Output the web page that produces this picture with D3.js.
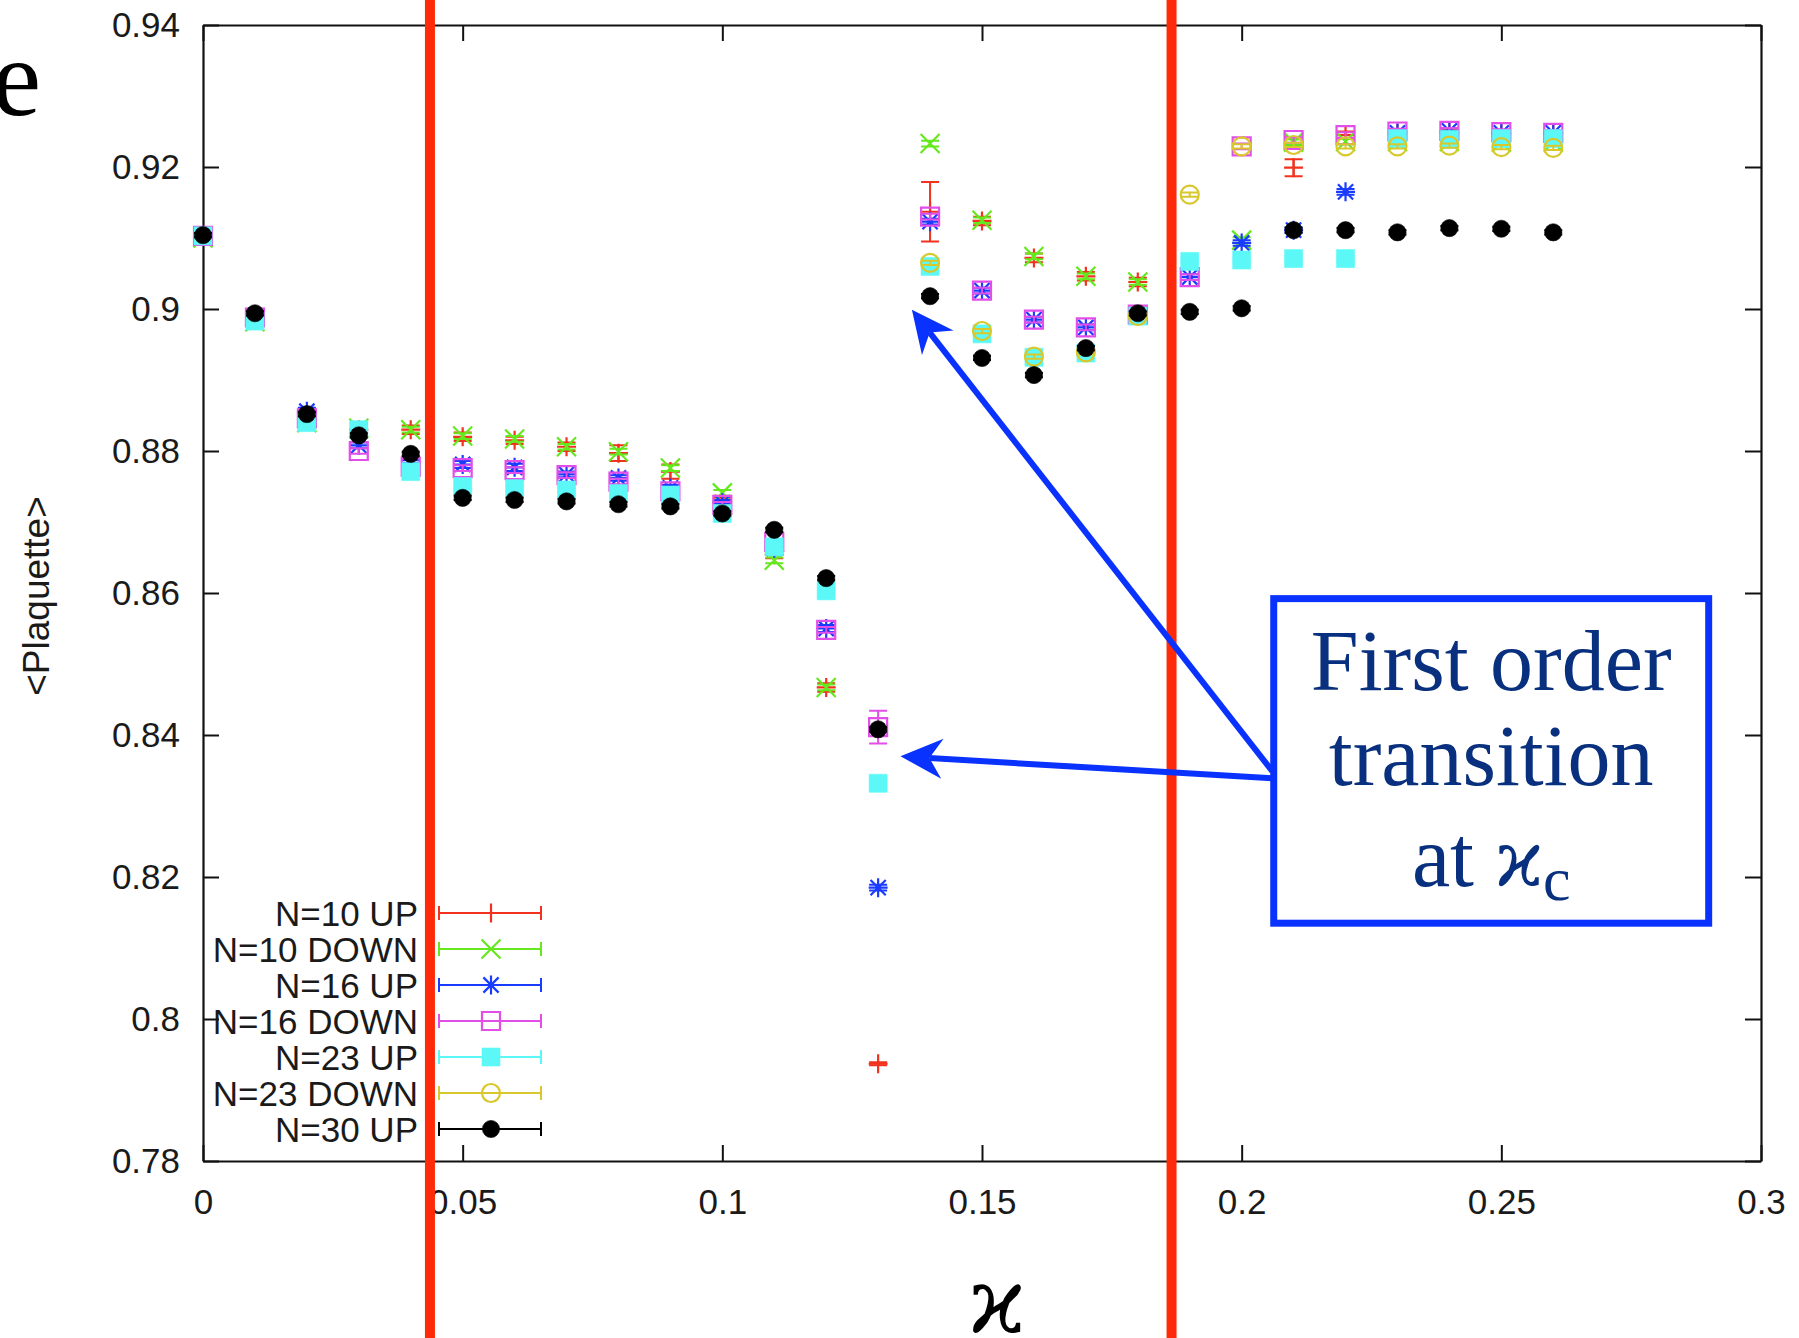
<!DOCTYPE html>
<html><head><meta charset="utf-8">
<script src="https://cdn.jsdelivr.net/npm/d3@7"></script>
<style>html,body{margin:0;padding:0;background:#fff}svg{display:block}</style>
</head><body>
<svg id="chart" width="1799" height="1338"></svg>
<script>
// ---------- data ----------
const kappa = [0,0.01,0.02,0.03,0.04,0.05,0.06,0.07,0.08,0.09,0.10,0.11,0.12,0.13,0.14,0.15,0.16,0.17,0.18,0.19,0.20,0.21,0.22,0.23,0.24,0.25,0.26];

const n10Up    = [0.9103,0.8988,0.8843,0.8830,0.8830,0.8820,0.8815,0.8806,0.8797,0.8771,0.8729,0.8654,0.8467,0.7937,0.9137,0.9124,0.9072,0.9046,0.9038,null,null,0.9199,0.9245,0.9248,0.9249,0.9247,0.9246];
const n10UpErr = [0.0004,0.0004,0.0006,0.0009,0.0006,0.0006,0.0005,0.0006,0.0011,0.0010,0.0005,0.0005,0.0006,0.0002,0.0042,0.0006,0.0006,0.0006,0.0006,null,null,0.0012,0.0005,0.0005,0.0005,0.0005,0.0005];

const n10Down    = [0.9100,0.8982,0.8840,0.8832,0.8830,0.8821,0.8817,0.8806,0.8799,0.8776,0.8741,0.8646,0.8467,null,0.9233,0.9125,0.9074,0.9046,0.9038,null,0.9097,0.9235,0.9236,0.9236,0.9236,0.9235,0.9235];
const n10DownErr = [0.0004,0.0004,0.0004,0.0004,0.0004,0.0004,0.0004,0.0004,0.0004,0.0004,0.0004,0.0004,0.0004,null,0.0004,0.0004,0.0004,0.0004,0.0004,null,0.0004,0.0004,0.0004,0.0004,0.0004,0.0004,0.0004];

const n16Up    = [0.9103,0.8990,0.8856,0.8808,0.8783,0.8781,0.8777,0.8767,0.8762,0.8748,0.8727,0.8663,0.8550,0.8185,0.9123,0.9026,0.8985,0.8974,0.8992,0.9045,0.9093,0.9111,0.9165,0.9248,0.9251,0.9248,0.9248];
const n16UpErr = [0.0004,0.0004,0.0005,0.0004,0.0004,0.0005,0.0005,0.0004,0.0004,0.0004,0.0004,0.0004,0.0005,0.0004,0.0004,0.0004,0.0004,0.0004,0.0004,0.0004,0.0004,0.0004,0.0004,0.0004,0.0004,0.0004,0.0004];

const n16Down    = [0.9103,0.8988,0.8846,0.8800,0.8778,0.8776,0.8773,0.8766,0.8757,0.8743,0.8724,0.8672,0.8548,0.8411,0.9130,0.9026,0.8985,0.8974,0.8992,0.9045,0.9229,0.9238,0.9245,0.9250,0.9251,0.9249,0.9248];
const n16DownErr = [0.0004,0.0004,0.0004,0.0004,0.0004,0.0004,0.0004,0.0004,0.0004,0.0004,0.0004,0.0004,0.0004,0.0023,0.0004,0.0004,0.0004,0.0004,0.0004,0.0004,0.0004,0.0004,0.0004,0.0004,0.0004,0.0004,0.0004];

const n23Up    = [0.9103,0.8983,0.8840,0.8830,0.8771,0.8750,0.8747,0.8745,0.8740,0.8738,0.8712,0.8665,0.8603,0.8332,0.9060,0.8965,0.8932,0.8938,0.8990,0.9067,0.9069,0.9071,0.9071,0.9240,0.9239,0.9240,0.9240];
const n23UpErr = [0.0003,0.0003,0.0003,0.0003,0.0003,0.0003,0.0003,0.0003,0.0003,0.0003,0.0003,0.0003,0.0003,0.0003,0.0003,0.0003,0.0003,0.0003,0.0003,0.0003,0.0003,0.0003,0.0003,0.0003,0.0003,0.0003,0.0003];

const n23Down    = [null,null,null,null,null,null,null,null,null,null,null,null,null,null,0.9065,0.8969,0.8933,0.8939,0.8990,0.9161,0.9229,0.9231,0.9229,0.9229,0.9230,0.9228,0.9227];
const n23DownErr = [null,null,null,null,null,null,null,null,null,null,null,null,null,null,0.0003,0.0003,0.0003,0.0003,0.0003,0.0003,0.0003,0.0003,0.0003,0.0003,0.0003,0.0003,0.0003];

const n30Up    = [0.9104,0.8994,0.8852,0.8822,0.8796,0.8734,0.8731,0.8729,0.8725,0.8722,0.8712,0.8689,0.8621,0.8408,0.9018,0.8931,0.8907,0.8945,0.8994,0.8996,0.9001,0.9111,0.9111,0.9108,0.9114,0.9113,0.9108];
const n30UpErr = [0.0003,0.0003,0.0003,0.0003,0.0003,0.0003,0.0003,0.0003,0.0003,0.0003,0.0003,0.0003,0.0003,0.0003,0.0003,0.0003,0.0003,0.0003,0.0003,0.0003,0.0003,0.0003,0.0003,0.0003,0.0003,0.0003,0.0003];

const seriesNames = ["N=10 UP","N=10 DOWN","N=16 UP","N=16 DOWN","N=23 UP","N=23 DOWN","N=30 UP"];
const xTicks = [0,0.05,0.1,0.15,0.2,0.25,0.3];
const yTicks = [0.78,0.8,0.82,0.84,0.86,0.88,0.9,0.92,0.94];
const transitionLines = [0.0437,0.1865];   // red vertical markers (kappa)

// ---------- layout / style ----------
const W = 1799, H = 1338;
const M = {left:203, top:25, right:1761, bottom:1161};
const styles = [
  {color:"#f0321e", shape:"plus"},
  {color:"#66e81e", shape:"cross"},
  {color:"#1a3cff", shape:"star"},
  {color:"#e24ee8", shape:"square"},
  {color:"#5cf8f8", shape:"fsquare"},
  {color:"#d8c82c", shape:"circle"},
  {color:"#000000", shape:"fcircle"}
];
const seriesVals = [n10Up,n10Down,n16Up,n16Down,n23Up,n23Down,n30Up];
const seriesErrs = [n10UpErr,n10DownErr,n16UpErr,n16DownErr,n23UpErr,n23DownErr,n30UpErr];

const svg = d3.select("#chart");
const x = d3.scaleLinear().domain([0,0.3]).range([M.left,M.right]);
const y = d3.scaleLinear().domain([0.78,0.94]).range([M.bottom,M.top]);
const fmt = d => String(+d.toFixed(2));
const sansFont = "'Liberation Sans', Arial, Helvetica, sans-serif";

// axes (ticks inward, mirrored)
function styleAxis(g){
  g.selectAll(".domain").attr("stroke","#111").attr("stroke-width",2.2);
  g.selectAll(".tick line").attr("stroke","#111").attr("stroke-width",2);
  g.selectAll(".tick text").attr("fill","#1a1a1a").attr("font-size",35).attr("font-family",sansFont);
}
svg.append("g").attr("transform",`translate(0,${M.bottom})`)
  .call(d3.axisBottom(x).tickValues(xTicks).tickFormat(fmt).tickSizeInner(-16).tickSizeOuter(0).tickPadding(28))
  .call(styleAxis);
svg.append("g").attr("transform",`translate(0,${M.top})`)
  .call(d3.axisTop(x).tickValues(xTicks).tickFormat("").tickSizeInner(-16).tickSizeOuter(0))
  .call(styleAxis);
svg.append("g").attr("transform",`translate(${M.left},0)`)
  .call(d3.axisLeft(y).tickValues(yTicks).tickFormat(fmt).tickSizeInner(-16).tickSizeOuter(0).tickPadding(23))
  .call(styleAxis);
svg.append("g").attr("transform",`translate(${M.right},0)`)
  .call(d3.axisRight(y).tickValues(yTicks).tickFormat("").tickSizeInner(-16).tickSizeOuter(0))
  .call(styleAxis);

// y label
svg.append("text")
  .attr("transform",`translate(36,${(M.top+M.bottom)/2 + 3}) rotate(-90)`)
  .attr("text-anchor","middle").attr("dominant-baseline","central")
  .attr("font-family",sansFont).attr("font-size",37).attr("fill","#1a1a1a")
  .text("<Plaquette>");

// marker shapes
function markerPath(shape){
  const s = 9.5;
  switch(shape){
    case "plus":  return `M${-s},0H${s}M0,${-s}V${s}`;
    case "cross": return `M${-s},${-s}L${s},${s}M${-s},${s}L${s},${-s}`;
    case "star":  return `M${-s},0H${s}M0,${-s}V${s}M${-s*0.8},${-s*0.8}L${s*0.8},${s*0.8}M${-s*0.8},${s*0.8}L${s*0.8},${-s*0.8}`;
    case "square": case "fsquare": return `M${-9},${-9}H9V9H-9Z`;
    case "circle": { const r = 9; return `M${-r},0A${r},${r} 0 1,0 ${r},0A${r},${r} 0 1,0 ${-r},0Z`; }
    case "fcircle": { const r = 8.6; return `M${-r},0A${r},${r} 0 1,0 ${r},0A${r},${r} 0 1,0 ${-r},0Z`; }
  }
}
function drawMarker(g, shape, color){
  const filled = shape==="fsquare"||shape==="fcircle";
  g.append("path").attr("d",markerPath(shape))
    .attr("fill", filled?color:"none")
    .attr("stroke",color).attr("stroke-width", filled?0.6:2.2);
}

// data
const dataG = svg.append("g");
seriesVals.forEach((vals,si)=>{
  const st = styles[si], errs = seriesErrs[si];
  const g = dataG.append("g");
  kappa.forEach((k,i)=>{
    const v = vals[i];
    if(v===null||v===undefined) return;
    const e = errs[i]||0;
    const px = x(k), py = y(v), y0 = y(v-e), y1 = y(v+e);
    g.append("path")
      .attr("d",`M${px},${y0}V${y1}M${px-9},${y0}H${px+9}M${px-9},${y1}H${px+9}`)
      .attr("stroke",st.color).attr("stroke-width",2).attr("fill","none");
    const mg = g.append("g").attr("transform",`translate(${px},${py})`);
    drawMarker(mg, st.shape, st.color);
  });
});

// legend
const leg = svg.append("g");
seriesNames.forEach((name,i)=>{
  const ry = 913 + i*36;
  const st = styles[i];
  leg.append("text").attr("x",418).attr("y",ry+12.5).attr("text-anchor","end")
    .attr("font-family",sansFont).attr("font-size",35).attr("fill","#1a1a1a").text(name);
  leg.append("path").attr("d",`M439,${ry}H541M439,${ry-7}V${ry+7}M541,${ry-7}V${ry+7}`)
    .attr("stroke",st.color).attr("stroke-width",2).attr("fill","none");
  drawMarker(leg.append("g").attr("transform",`translate(491,${ry})`), st.shape, st.color);
});

// red transition lines (full height)
transitionLines.forEach(k=>{
  svg.append("line").attr("x1",x(k)).attr("x2",x(k)).attr("y1",0).attr("y2",H)
    .attr("stroke","#ff2a0a").attr("stroke-width",10);
});

// annotation box
const boxK = [0.2055,0.2906], boxV = [0.8130,0.8597];
const bx0 = x(boxK[0]), bx1 = x(boxK[1]), by0 = y(boxV[1]), by1 = y(boxV[0]);
svg.append("rect").attr("x",bx0+3.5).attr("y",by0+3.5).attr("width",bx1-bx0-7).attr("height",by1-by0-7)
  .attr("fill","#fff").attr("stroke","#0a32ff").attr("stroke-width",7);
const bcx = (bx0+bx1)/2;
const serif = "'Liberation Serif', 'Times New Roman', serif";
const navy = "#08307e";
svg.append("text").attr("x",bcx).attr("y",by0+95).attr("text-anchor","middle")
  .attr("font-family",serif).attr("font-size",86).attr("fill",navy).text("First order");
svg.append("text").attr("x",bcx).attr("y",by0+190).attr("text-anchor","middle")
  .attr("font-family",serif).attr("font-size",86).attr("fill",navy).text("transition");
const t3 = svg.append("text").attr("x",bcx).attr("y",by0+291).attr("text-anchor","middle")
  .attr("font-family",serif).attr("font-size",86).attr("fill",navy);
t3.append("tspan").text("at ");
t3.append("tspan").attr("font-family","'DejaVu Serif', serif").attr("font-size",76).text("ϰ");
t3.append("tspan").attr("font-size",62).attr("dy",14).text("c");

// arrows
const arrows = [
  {from:[0.2059,0.8349], to:[0.1365,0.8999]},
  {from:[0.2059,0.8339], to:[0.1343,0.8370]}
];
arrows.forEach(a=>{
  const x1=x(a.from[0]), y1=y(a.from[1]), x2=x(a.to[0]), y2=y(a.to[1]);
  const ang = Math.atan2(y2-y1,x2-x1);
  const L=42, Wd=20, N=29;
  const ux=Math.cos(ang), uy=Math.sin(ang);
  const bxp = x2-ux*N, byp = y2-uy*N;
  svg.append("line").attr("x1",x1).attr("y1",y1).attr("x2",bxp).attr("y2",byp)
    .attr("stroke","#0a32ff").attr("stroke-width",6);
  const p1 = [x2-ux*L - uy*Wd, y2-uy*L + ux*Wd];
  const p2 = [x2-ux*L + uy*Wd, y2-uy*L - ux*Wd];
  svg.append("path").attr("d",`M${x2},${y2}L${p1[0]},${p1[1]}L${bxp},${byp}L${p2[0]},${p2[1]}Z`)
    .attr("fill","#0a32ff");
});

// stray slide text and x label
svg.append("text").attr("x",41).attr("y",115).attr("text-anchor","end")
  .attr("font-family",serif).attr("font-size",110).attr("fill","#000").text("e");
svg.append("text").attr("x",997).attr("y",1333).attr("text-anchor","middle")
  .attr("font-family","'DejaVu Serif', serif").attr("font-size",90).attr("fill","#000").text("ϰ");
</script>
</body></html>
